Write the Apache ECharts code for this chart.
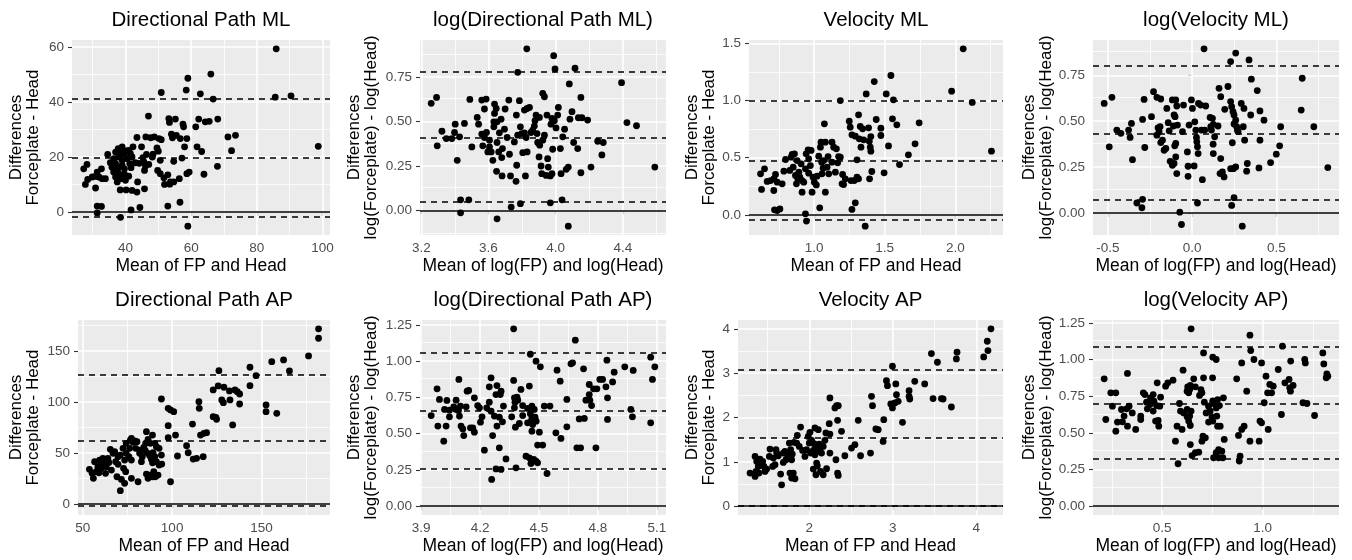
<!DOCTYPE html>
<html>
<head>
<meta charset="utf-8">
<script src="https://cdn.jsdelivr.net/npm/echarts@6/dist/echarts.min.js"></script>
<style>
html, body { margin: 0; background: #fff; }
#chart { width: 1352px; height: 560px; }
</style>
</head>
<body>
<div id="chart"></div>
<script>
// Bland-Altman plots: [mean, difference] per subject
const dpMl = [[85.9,59.4],[85.6,41.8],[90.4,42.3],[98.7,23.9],[66.0,50.2],[59.0,48.7],[58.5,44.4],[50.9,43.5],[62.8,43.0],[66.7,41.1],[47.0,34.9],[53.2,34.0],[55.2,33.8],[53.4,32.6],[62.3,33.8],[64.3,32.8],[65.5,33.0],[68.1,33.8],[61.4,31.0],[57.7,31.0],[57.5,32.0],[71.2,27.3],[73.5,27.9],[72.3,22.3],[68.0,16.6],[63.9,13.7],[61.8,23.7],[63.2,22.0],[54.0,28.3],[55.5,27.9],[54.3,27.0],[56.7,26.7],[58.7,26.7],[58.0,23.7],[57.2,19.6],[54.7,18.4],[52.9,13.5],[51.7,12.4],[51.9,10.0],[53.5,10.1],[54.7,10.9],[53.7,10.9],[56.4,12.1],[58.7,13.9],[59.4,14.5],[56.6,3.5],[52.9,2.1],[59.0,-5.2],[46.2,27.3],[47.7,27.0],[48.8,27.3],[50.2,26.7],[50.9,26.3],[49.6,23.3],[50.0,22.1],[50.6,18.8],[49.8,15.1],[50.6,13.9],[48.4,21.0],[46.4,20.9],[45.3,19.8],[45.6,18.2],[46.1,16.7],[45.8,15.1],[47.1,17.3],[43.5,27.1],[44.9,23.7],[42.3,23.7],[43.0,17.9],[44.2,17.7],[41.7,16.1],[41.0,13.0],[43.7,10.9],[43.5,7.2],[45.8,8.4],[42.0,7.8],[40.2,8.0],[38.4,8.0],[41.7,0.7],[44.4,1.6],[38.5,-2.0],[39.0,23.7],[37.8,23.0],[37.0,21.8],[40.3,22.2],[39.5,21.0],[38.0,20.0],[40.5,19.4],[39.0,18.8],[37.0,17.6],[35.4,17.9],[35.9,16.3],[37.8,16.0],[39.7,15.7],[36.4,14.5],[38.0,13.9],[39.7,13.7],[37.0,12.7],[38.5,12.1],[40.0,11.5],[37.5,10.9],[34.6,20.9],[33.9,12.1],[32.7,15.7],[31.4,14.5],[30.9,12.9],[31.9,12.7],[32.9,12.1],[29.9,12.7],[28.5,11.8],[27.8,10.0],[27.3,15.7],[28.3,17.3],[30.9,8.7],[31.4,2.1],[32.7,2.0],[31.4,-0.4],[41.0,22.4],[41.5,21.2],[38.5,21.8],[36.5,19.4],[39.0,17.0],[41.3,17.6],[42.0,20.0],[48.2,20.0]];
const logDpMl = [[3.828,0.908],[3.988,0.870],[3.996,0.795],[4.115,0.799],[3.774,0.776],[4.081,0.711],[4.392,0.718],[3.259,0.602],[3.291,0.635],[3.295,0.363],[3.323,0.445],[3.349,0.404],[3.382,0.404],[3.398,0.438],[3.402,0.485],[3.428,0.414],[3.414,0.282],[3.457,0.489],[3.489,0.624],[3.501,0.357],[3.533,0.523],[3.541,0.485],[3.560,0.620],[3.586,0.626],[3.576,0.570],[3.560,0.429],[3.576,0.410],[3.588,0.438],[3.566,0.363],[3.596,0.329],[3.616,0.329],[3.606,0.395],[3.632,0.470],[3.636,0.598],[3.646,0.573],[3.636,0.545],[3.651,0.498],[3.632,0.498],[3.626,0.282],[3.651,0.382],[3.648,0.220],[3.661,0.329],[3.675,0.513],[3.683,0.348],[3.679,0.297],[3.699,0.570],[3.695,0.457],[3.711,0.410],[3.721,0.620],[3.725,0.316],[3.731,0.194],[3.735,0.019],[3.681,0.194],[3.651,-0.047],[3.754,0.385],[3.766,0.536],[3.774,0.423],[3.768,0.254],[3.764,0.164],[3.784,0.617],[3.790,0.470],[3.798,0.432],[3.790,0.038],[3.804,0.325],[3.814,0.564],[3.830,0.573],[3.814,0.436],[3.824,0.410],[3.830,0.329],[3.820,0.194],[3.844,0.579],[3.853,0.438],[3.863,0.451],[3.873,0.474],[3.877,0.504],[3.883,0.536],[3.903,0.523],[3.889,0.432],[3.905,0.367],[3.901,0.301],[3.913,0.250],[3.917,0.207],[3.923,0.658],[3.933,0.639],[3.933,0.423],[3.948,0.536],[3.952,0.291],[3.943,0.197],[3.956,0.244],[3.968,0.194],[3.972,0.485],[3.978,0.517],[3.982,0.344],[3.992,0.504],[4.002,0.464],[4.016,0.579],[4.012,0.536],[3.978,0.207],[3.968,0.043],[4.028,0.348],[4.032,0.207],[4.038,0.060],[4.042,0.414],[4.053,0.457],[4.063,0.231],[4.075,0.244],[4.075,-0.088],[4.085,0.513],[4.097,0.555],[4.107,0.382],[4.131,0.348],[4.135,0.521],[4.150,0.635],[4.156,0.521],[4.150,0.212],[4.190,0.508],[4.210,0.244],[4.250,0.389],[4.275,0.312],[4.283,0.382],[4.424,0.494],[4.481,0.476],[4.590,0.244],[3.434,0.060],[3.483,0.060],[3.434,-0.013],[3.606,0.357],[3.893,0.382],[3.923,0.395],[3.665,0.436]];
const velMl = [[2.056,1.452],[1.974,1.082],[2.120,0.983],[2.256,0.557],[1.544,1.219],[1.426,1.166],[1.369,1.058],[1.511,1.058],[1.562,1.006],[1.186,1.000],[1.315,0.875],[1.440,0.834],[1.555,0.840],[1.586,0.787],[1.744,0.805],[1.473,0.758],[1.386,0.761],[1.327,0.773],[1.344,0.752],[1.249,0.819],[1.256,0.767],[1.268,0.700],[1.292,0.688],[1.320,0.665],[1.351,0.656],[1.391,0.644],[1.402,0.685],[1.332,0.592],[1.398,0.592],[1.527,0.603],[1.402,0.557],[1.715,0.621],[1.668,0.525],[1.605,0.440],[1.496,0.367],[1.409,0.379],[1.393,0.315],[1.304,0.329],[1.315,0.315],[1.285,0.300],[1.261,0.300],[1.268,0.047],[1.292,0.105],[1.362,-0.099],[1.304,0.481],[1.202,0.353],[1.221,0.315],[1.209,0.265],[1.198,0.271],[1.186,0.504],[1.167,0.455],[1.139,0.592],[1.127,0.636],[1.158,0.577],[1.174,0.510],[1.151,0.373],[1.099,0.510],[1.080,0.636],[1.049,0.636],[1.073,0.796],[1.045,0.592],[1.033,0.513],[1.054,0.461],[1.064,0.408],[1.056,0.359],[1.068,0.475],[1.040,0.061],[1.080,0.198],[1.016,0.262],[1.002,0.286],[0.993,0.329],[0.986,0.198],[0.979,0.563],[0.958,0.569],[0.944,0.534],[0.962,0.490],[0.974,0.431],[0.939,0.402],[0.927,0.286],[0.915,0.198],[0.939,0.009],[0.946,-0.055],[0.908,0.446],[0.892,0.373],[0.885,0.315],[0.875,0.271],[0.868,0.344],[0.852,0.417],[0.845,0.528],[0.838,0.504],[0.861,0.534],[0.880,0.475],[0.899,0.329],[0.915,0.300],[0.828,0.388],[0.798,0.484],[0.786,0.382],[0.774,0.271],[0.758,0.052],[0.739,0.038],[0.720,0.044],[0.727,0.353],[0.715,0.213],[0.692,0.300],[0.668,0.292],[0.649,0.402],[0.621,0.359],[0.628,0.222],[0.715,0.315],[0.739,0.286],[1.021,0.338],[0.962,0.364],[1.127,0.461],[1.092,0.417],[1.104,0.359],[1.473,0.694]];
const logVelMl = [[-0.522,0.597],[-0.476,0.630],[-0.492,0.361],[-0.447,0.452],[-0.423,0.434],[-0.377,0.452],[-0.368,0.412],[-0.360,0.488],[-0.354,0.291],[-0.328,0.055],[-0.294,0.075],[-0.298,0.029],[-0.294,0.510],[-0.285,0.619],[-0.281,0.357],[-0.241,0.525],[-0.229,0.661],[-0.209,0.630],[-0.186,0.621],[-0.202,0.464],[-0.196,0.443],[-0.209,0.424],[-0.190,0.470],[-0.176,0.397],[-0.186,0.384],[-0.166,0.342],[-0.156,0.352],[-0.150,0.570],[-0.142,0.492],[-0.136,0.448],[-0.130,0.282],[-0.117,0.260],[-0.117,0.616],[-0.107,0.534],[-0.101,0.525],[-0.111,0.474],[-0.097,0.616],[-0.091,0.583],[-0.097,0.379],[-0.103,0.366],[-0.097,0.306],[-0.107,0.270],[-0.091,0.215],[-0.087,0.479],[-0.073,0.005],[-0.063,-0.062],[-0.057,0.443],[-0.051,0.588],[-0.028,0.333],[-0.024,0.200],[-0.024,0.255],[-0.018,0.479],[-0.004,0.616],[0.002,0.570],[0.012,0.257],[0.016,0.497],[0.022,0.452],[0.026,0.412],[0.028,0.388],[0.032,0.361],[0.036,0.324],[0.032,0.055],[0.038,0.597],[0.051,0.588],[0.055,0.452],[0.061,0.182],[0.075,0.452],[0.071,0.894],[0.081,0.583],[0.107,0.521],[0.111,0.470],[0.115,0.452],[0.121,0.516],[0.126,0.483],[0.125,0.375],[0.126,0.324],[0.134,0.415],[0.154,0.474],[0.170,0.297],[0.166,0.215],[0.180,0.224],[0.190,0.197],[0.160,0.679],[0.170,0.634],[0.194,0.565],[0.229,0.825],[0.259,0.871],[0.213,0.689],[0.229,0.607],[0.235,0.579],[0.243,0.552],[0.249,0.534],[0.259,0.506],[0.249,0.485],[0.265,0.470],[0.269,0.452],[0.273,0.443],[0.239,0.383],[0.229,0.242],[0.245,0.242],[0.259,0.251],[0.249,0.084],[0.235,0.042],[0.298,-0.071],[0.308,0.570],[0.304,0.470],[0.312,0.397],[0.324,0.228],[0.328,0.270],[0.292,0.597],[0.338,0.834],[0.352,0.729],[0.348,0.534],[0.387,0.667],[0.403,0.556],[0.403,0.397],[0.397,0.246],[0.427,0.506],[0.466,0.275],[0.500,0.321],[0.520,0.366],[0.526,0.470],[0.648,0.561],[0.654,0.734],[0.723,0.470],[0.806,0.248]];
const dpAp = [[182.0,171.6],[182.0,162.4],[176.4,145.1],[162.4,141.2],[155.8,139.5],[165.7,130.4],[147.0,125.8],[143.6,134.0],[126.2,130.7],[143.6,116.0],[123.0,111.8],[125.8,115.7],[129.0,114.4],[135.2,111.8],[136.5,110.1],[137.8,107.8],[132.1,110.8],[127.8,102.0],[128.7,99.3],[132.4,102.0],[137.8,98.0],[115.0,100.3],[115.2,93.8],[94.0,102.9],[97.8,93.8],[99.1,92.2],[100.9,90.5],[97.8,76.8],[97.8,65.0],[101.9,67.6],[111.4,78.4],[123.0,85.6],[124.5,85.0],[124.9,83.0],[133.9,77.5],[152.6,97.1],[152.6,90.5],[158.6,88.9],[115.9,67.6],[117.8,69.3],[119.3,69.9],[108.1,57.2],[109.0,50.3],[111.8,44.1],[113.7,44.8],[117.4,46.4],[103.0,47.1],[99.1,21.9],[85.6,70.9],[89.0,67.6],[86.5,63.4],[87.8,59.5],[90.3,59.5],[91.2,56.2],[92.7,54.6],[94.0,48.0],[94.2,39.2],[92.7,38.2],[85.2,59.5],[84.1,55.6],[85.0,52.3],[86.5,49.7],[87.5,47.4],[89.3,50.3],[88.4,43.8],[90.3,46.4],[85.6,29.4],[87.5,28.4],[89.0,26.8],[90.6,26.8],[86.5,25.2],[82.8,41.5],[81.8,49.7],[79.6,54.6],[78.1,60.5],[76.6,62.7],[79.0,61.8],[74.3,59.5],[72.5,54.6],[80.3,61.1],[77.2,64.4],[80.9,21.9],[74.3,49.7],[75.8,46.4],[77.2,43.1],[73.4,43.1],[71.0,48.0],[69.7,46.4],[68.4,41.5],[69.7,38.9],[72.8,35.0],[74.0,31.7],[71.6,24.2],[73.4,20.3],[71.0,13.1],[77.2,25.2],[69.1,26.8],[66.9,49.7],[65.4,53.6],[64.0,44.8],[64.6,40.8],[63.1,36.6],[66.0,33.3],[67.8,51.3],[61.2,44.8],[59.4,43.1],[62.2,41.5],[60.3,38.9],[58.4,36.6],[57.5,31.7],[59.0,30.7],[62.7,30.1],[56.6,41.5],[53.7,34.0],[55.2,30.1],[55.9,25.2],[60.3,35.0],[81.8,52.9],[83.3,46.4],[91.2,41.5],[89.0,40.5],[89.7,31.7],[92.1,28.4],[76.2,54.6]];
const logDpAp = [[4.371,1.223],[4.685,1.145],[4.456,1.048],[4.485,1.000],[4.507,0.961],[4.663,0.982],[4.671,0.989],[4.727,0.947],[4.846,1.007],[4.937,0.961],[4.980,0.936],[4.883,0.924],[5.069,1.028],[5.090,0.961],[5.078,0.874],[4.592,0.938],[4.608,0.862],[4.810,0.874],[4.824,0.874],[4.875,0.857],[4.841,0.823],[4.795,0.809],[4.778,0.809],[4.756,0.839],[4.849,0.747],[4.756,0.770],[4.739,0.731],[4.759,0.731],[4.768,0.694],[4.642,0.736],[4.586,0.506],[4.612,0.467],[4.642,0.547],[4.705,0.602],[4.731,0.605],[4.693,0.402],[4.712,0.402],[4.790,0.402],[4.849,0.598],[4.968,0.667],[4.976,0.616],[5.069,0.575],[4.541,0.225],[4.502,0.510],[4.493,0.421],[4.519,0.421],[4.527,0.690],[4.451,0.828],[4.442,0.674],[4.456,0.637],[4.464,0.690],[4.476,0.667],[4.480,0.614],[4.463,0.598],[4.442,0.575],[4.468,0.563],[4.486,0.586],[4.464,0.517],[4.434,0.345],[4.451,0.333],[4.473,0.322],[4.485,0.310],[4.493,0.299],[4.459,0.294],[4.417,0.625],[4.408,0.805],[4.417,0.694],[4.400,0.570],[4.375,0.747],[4.378,0.717],[4.371,0.867],[4.388,0.752],[4.392,0.731],[4.361,0.616],[4.380,0.545],[4.383,0.264],[4.332,0.326],[4.319,0.690],[4.314,0.582],[4.303,0.770],[4.307,0.793],[4.298,0.614],[4.286,0.832],[4.281,0.770],[4.273,0.621],[4.286,0.552],[4.298,0.402],[4.307,0.253],[4.281,0.257],[4.259,0.184],[4.264,0.487],[4.256,0.655],[4.256,0.885],[4.247,0.823],[4.247,0.717],[4.234,0.678],[4.222,0.386],[4.210,0.616],[4.197,0.678],[4.202,0.579],[4.188,0.694],[4.171,0.747],[4.171,0.510],[4.163,0.540],[4.151,0.540],[4.142,0.798],[4.134,0.793],[4.129,0.685],[4.117,0.487],[4.112,0.533],[4.103,0.552],[4.095,0.621],[4.092,0.874],[4.100,0.690],[4.090,0.660],[4.078,0.667],[4.078,0.731],[4.066,0.685],[4.044,0.616],[4.044,0.662],[4.027,0.552],[4.019,0.667],[4.031,0.729],[4.015,0.448],[3.993,0.736],[3.985,0.552],[3.981,0.809],[3.951,0.625],[4.556,0.690],[4.375,0.678]];
const velAp = [[4.175,4.000],[4.131,3.721],[4.139,3.510],[4.088,3.367],[3.761,3.322],[3.769,3.473],[3.462,3.443],[3.534,3.247],[2.996,3.156],[3.263,2.817],[3.382,2.757],[2.924,2.832],[2.936,2.719],[3.036,2.757],[3.195,2.606],[3.195,2.478],[3.203,2.418],[3.044,2.516],[3.064,2.365],[3.024,2.328],[2.976,2.305],[2.996,2.215],[3.482,2.426],[3.582,2.426],[3.602,2.418],[3.701,2.237],[3.116,1.891],[2.892,1.951],[2.884,1.461],[2.797,1.740],[2.825,1.725],[2.745,2.478],[2.757,2.267],[2.586,1.936],[2.733,1.198],[2.614,1.137],[2.546,1.386],[2.506,1.311],[2.426,1.137],[2.247,2.441],[2.307,2.215],[2.327,2.267],[2.347,2.267],[2.386,1.687],[2.339,1.936],[2.239,1.861],[2.247,1.627],[2.319,1.047],[2.339,0.746],[2.347,0.693],[2.247,1.198],[2.207,0.844],[2.187,1.484],[2.167,1.348],[2.147,1.198],[2.167,0.708],[2.135,0.783],[2.080,0.708],[2.096,0.911],[2.048,0.836],[2.088,0.972],[2.068,1.763],[2.108,1.725],[2.008,1.665],[2.028,1.484],[2.000,1.424],[2.056,1.409],[2.080,1.311],[2.120,1.401],[2.127,1.311],[2.048,1.258],[2.068,1.160],[2.108,1.235],[2.135,1.363],[2.016,1.198],[1.948,1.122],[1.920,1.258],[1.896,1.785],[1.880,1.348],[1.857,1.597],[1.817,1.439],[1.849,1.424],[1.829,0.618],[1.789,0.633],[1.769,0.746],[1.761,1.424],[1.777,1.273],[1.797,1.175],[1.789,1.047],[1.769,1.122],[1.729,1.183],[1.689,1.198],[1.709,1.235],[1.689,0.987],[1.657,0.723],[1.669,0.482],[1.629,1.137],[1.610,1.198],[1.602,1.273],[1.570,1.085],[1.530,1.288],[1.522,1.122],[1.562,0.896],[1.590,0.934],[1.490,0.836],[1.470,0.783],[1.442,1.009],[1.410,1.062],[1.430,0.934],[1.390,0.896],[1.371,1.009],[1.351,1.122],[1.363,0.783],[1.351,0.670],[1.291,0.746],[1.398,0.746],[1.458,0.896],[1.721,1.047],[1.809,0.746],[1.968,1.273],[1.988,1.574],[2.199,1.650]];
const logVelAp = [[0.644,1.209],[0.937,1.166],[0.941,1.061],[1.099,1.091],[0.706,1.045],[0.752,1.016],[0.769,1.000],[0.957,1.000],[0.995,0.977],[0.896,0.977],[1.140,0.989],[1.210,1.000],[1.213,0.977],[1.300,1.045],[1.305,0.970],[1.320,0.902],[1.317,0.875],[1.325,0.886],[1.078,0.932],[1.017,0.886],[0.871,0.868],[0.706,0.875],[0.751,0.875],[0.657,0.868],[0.604,0.927],[0.554,0.859],[0.327,0.905],[0.211,0.868],[0.475,0.841],[0.517,0.818],[0.528,0.841],[0.640,0.823],[0.665,0.814],[0.637,0.795],[0.632,0.773],[0.627,0.814],[0.624,0.784],[0.693,0.795],[0.698,0.773],[0.686,0.755],[0.921,0.784],[1.036,0.830],[1.053,0.818],[1.045,0.773],[1.025,0.773],[1.111,0.841],[1.132,0.864],[1.135,0.807],[1.152,0.823],[1.139,0.784],[1.201,0.705],[1.221,0.700],[1.259,0.618],[1.008,0.705],[0.987,0.580],[0.995,0.568],[1.028,0.523],[1.094,0.625],[0.983,0.443],[0.937,0.443],[0.908,0.545],[0.896,0.523],[0.880,0.482],[0.888,0.341],[0.884,0.307],[0.809,0.455],[0.805,0.739],[0.776,0.727],[0.752,0.705],[0.756,0.700],[0.731,0.682],[0.710,0.709],[0.769,0.670],[0.739,0.648],[0.719,0.636],[0.748,0.609],[0.772,0.614],[0.752,0.580],[0.731,0.573],[0.776,0.545],[0.789,0.545],[0.785,0.686],[0.715,0.466],[0.703,0.477],[0.781,0.386],[0.769,0.364],[0.781,0.330],[0.756,0.330],[0.802,0.330],[0.797,0.375],[0.752,0.718],[0.698,0.443],[0.644,0.648],[0.624,0.659],[0.607,0.636],[0.632,0.580],[0.640,0.550],[0.624,0.609],[0.637,0.614],[0.591,0.648],[0.586,0.700],[0.574,0.545],[0.599,0.523],[0.579,0.289],[0.640,0.420],[0.649,0.345],[0.682,0.368],[0.665,0.364],[0.566,0.443],[0.492,0.743],[0.488,0.682],[0.472,0.686],[0.459,0.716],[0.455,0.761],[0.442,0.739],[0.414,0.761],[0.406,0.773],[0.393,0.614],[0.426,0.664],[0.422,0.709],[0.439,0.693],[0.455,0.648],[0.467,0.580],[0.480,0.584],[0.483,0.545],[0.335,0.682],[0.323,0.664],[0.327,0.545],[0.310,0.614],[0.297,0.659],[0.302,0.575],[0.368,0.523],[0.351,0.636],[0.393,0.591],[0.269,0.773],[0.244,0.773],[0.252,0.682],[0.277,0.573],[0.269,0.511],[0.219,0.591]];

// limits of agreement: upper, mean, lower
const dpMlLimits = [41.1, 19.6, -1.8];
const logDpMlLimits = [0.776, 0.414, 0.051];
const velMlLimits = [1.005, 0.475, -0.041];
const logVelMlLimits = [0.798, 0.434, 0.069];
const dpApLimits = [126.5, 62.1, -2.0];
const logDpApLimits = [1.062, 0.662, 0.262];
const velApLimits = [3.078, 1.545, 0.012];
const logVelApLimits = [1.086, 0.702, 0.316];

const panelTitles = ['Directional Path ML', 'log(Directional Path ML)', 'Velocity ML', 'log(Velocity ML)',
  'Directional Path AP', 'log(Directional Path AP)', 'Velocity AP', 'log(Velocity AP)'];
const rawXName = 'Mean of FP and Head';
const logXName = 'Mean of log(FP) and log(Head)';
const rawYName = 'Differences\nForceplate - Head';
const logYName = 'Differences\nlog(Forceplate) - log(Head)';

// axis breaks
const xTicks = [[40, 60, 80, 100], [3.2, 3.6, 4.0, 4.4], [1.0, 1.5, 2.0], [-0.5, 0.0, 0.5],
  [50, 100, 150], [3.9, 4.2, 4.5, 4.8, 5.1], [2, 3, 4], [0.5, 1.0]];
const yTicks = [[0, 20, 40, 60], [0, 0.25, 0.5, 0.75], [0, 0.5, 1.0, 1.5], [0, 0.25, 0.5, 0.75],
  [0, 50, 100, 150], [0, 0.25, 0.5, 0.75, 1.0, 1.25], [0, 1, 2, 3, 4], [0, 0.25, 0.5, 0.75, 1.0, 1.25]];

const points = [dpMl, logDpMl, velMl, logVelMl, dpAp, logDpAp, velAp, logVelAp];
const limits = [dpMlLimits, logDpMlLimits, velMlLimits, logVelMlLimits, dpApLimits, logDpApLimits, velApLimits, logVelApLimits];

// panel boxes (px) as in the figure
const boxes = [
  {left: 72, top: 40, width: 258}, {left: 420, top: 40, width: 246},
  {left: 749, top: 40, width: 254}, {left: 1093, top: 40, width: 246},
  {left: 78, top: 320, width: 252}, {left: 420, top: 320, width: 246},
  {left: 738, top: 320, width: 265}, {left: 1093, top: 320, width: 246}
];
const panelHeight = 195;
const yNameGaps = [30, 40, 31, 37, 36, 40, 20, 37];

const FONT = '"Liberation Sans", Arial, Helvetica, sans-serif';

// ggplot style range: data +/- 5%
function expand(vals) {
  const lo = Math.min(...vals), hi = Math.max(...vals);
  const pad = (hi - lo) * 0.05;
  return [lo - pad, hi + pad];
}

function decimals(ticks) {
  let d = 0;
  ticks.forEach(t => {
    const s = String(t).split('.')[1];
    if (s && s.length > d) d = s.length;
  });
  return d;
}

// minor breaks halfway between majors, kept inside range
function minors(ticks, range) {
  const step = ticks[1] - ticks[0];
  const out = [];
  for (let i = -1; i < ticks.length; i++) {
    const v = ticks[0] + (i + 0.5) * step;
    if (v > range[0] && v < range[1]) out.push(+v.toFixed(6));
  }
  return out;
}

const grid = [], xAxis = [], yAxis = [], series = [], graphic = [];

points.forEach((pts, i) => {
  const box = boxes[i];
  const isLog = i % 2 === 1;
  const xr = expand(pts.map(p => p[0]));
  const yr = expand(pts.map(p => p[1]).concat(limits[i], [0]));
  const xd = decimals(xTicks[i]);
  const yd = decimals(yTicks[i]);

  grid.push({
    left: box.left, top: box.top, width: box.width, height: panelHeight,
    show: true, backgroundColor: '#EBEBEB', borderWidth: 0
  });

  xAxis.push({
    type: 'value', gridIndex: i, min: xr[0], max: xr[1],
    name: isLog ? logXName : rawXName,
    nameLocation: 'middle', nameGap: 22,
    nameTextStyle: {fontFamily: FONT, fontSize: 17.5, color: '#000'},
    axisLine: {show: false},
    splitLine: {show: false},
    axisTick: {show: true, customValues: xTicks[i], length: 4, lineStyle: {color: '#333', width: 1.1}},
    axisLabel: {customValues: xTicks[i], margin: 6, fontFamily: FONT, fontSize: 13.5, color: '#4D4D4D',
      formatter: v => v.toFixed(xd)}
  });

  yAxis.push({
    type: 'value', gridIndex: i, min: yr[0], max: yr[1],
    name: isLog ? logYName : rawYName,
    nameLocation: 'middle', nameGap: yNameGaps[i], nameRotate: 90,
    nameTextStyle: {fontFamily: FONT, fontSize: 17, color: '#000', lineHeight: 17},
    axisLine: {show: false},
    splitLine: {show: false},
    axisTick: {show: true, customValues: yTicks[i], length: 4, lineStyle: {color: '#333', width: 1.1}},
    axisLabel: {customValues: yTicks[i], margin: 8, fontFamily: FONT, fontSize: 13.5, color: '#4D4D4D',
      formatter: v => v.toFixed(yd)}
  });

  // white panel grid, drawn under the points
  const gridLines = [];
  xTicks[i].forEach(v => gridLines.push({xAxis: v, lineStyle: {width: 1.6}}));
  minors(xTicks[i], xr).forEach(v => gridLines.push({xAxis: v, lineStyle: {width: 0.8}}));
  yTicks[i].forEach(v => gridLines.push({yAxis: v, lineStyle: {width: 1.6}}));
  minors(yTicks[i], yr).forEach(v => gridLines.push({yAxis: v, lineStyle: {width: 0.8}}));

  series.push({
    type: 'scatter', xAxisIndex: i, yAxisIndex: i, data: [], z: 1, silent: true,
    markLine: {
      z: 1, silent: true, symbol: ['none', 'none'], label: {show: false}, animation: false,
      lineStyle: {color: '#fff', type: 'solid'},
      emphasis: {disabled: true},
      data: gridLines
    }
  });

  const refLines = [{yAxis: 0, lineStyle: {type: 'solid'}}];
  limits[i].forEach(v => refLines.push({yAxis: v}));

  series.push({
    type: 'scatter', xAxisIndex: i, yAxisIndex: i, data: pts, z: 3,
    symbolSize: 6.8, itemStyle: {color: '#000', opacity: 1},
    emphasis: {disabled: true},
    markLine: {
      z: 4, silent: true, symbol: ['none', 'none'], label: {show: false}, animation: false,
      lineStyle: {color: '#000', width: 1.5, type: [6, 5]},
      emphasis: {disabled: true},
      data: refLines
    }
  });

  graphic.push({
    type: 'text', x: box.left + box.width / 2, y: box.top - 20,
    style: {text: panelTitles[i], font: '20.5px ' + FONT, fill: '#000',
      textAlign: 'center', textVerticalAlign: 'middle'}
  });
});

const chart = echarts.init(document.getElementById('chart'));
chart.setOption({
  animation: false,
  backgroundColor: '#fff',
  grid, xAxis, yAxis, series, graphic
});
</script>
</body>
</html>
